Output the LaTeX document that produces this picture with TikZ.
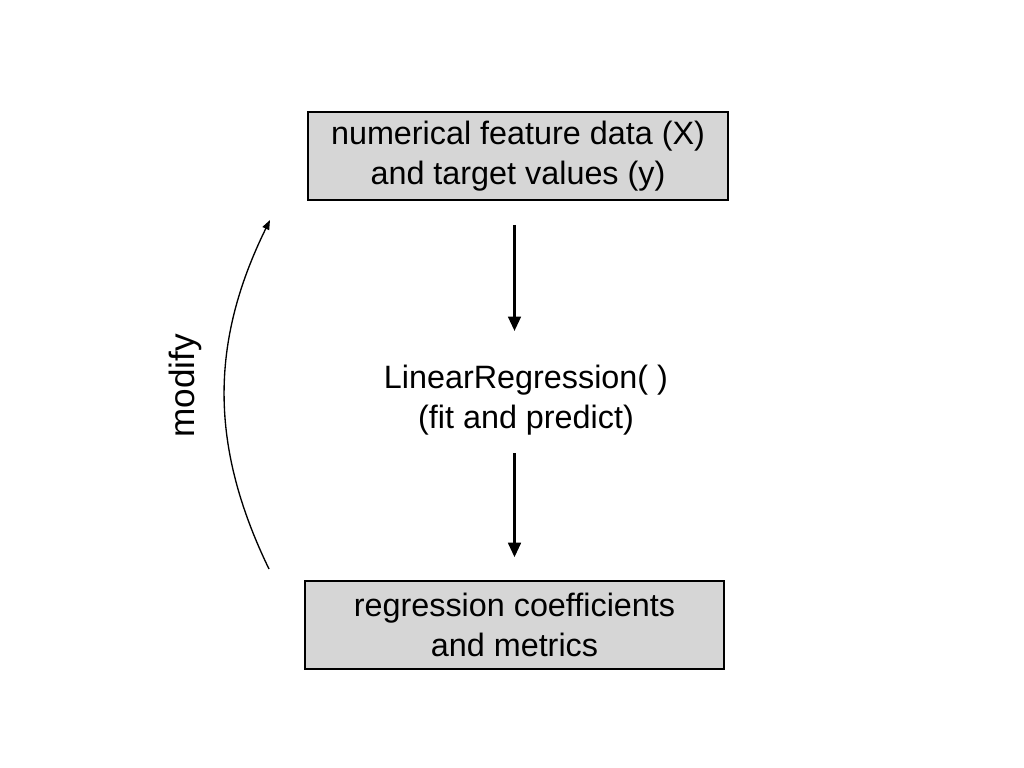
\documentclass[tikz,border=0pt]{standalone}
\usepackage{fontspec}
\setmainfont{Liberation Sans}
\usetikzlibrary{arrows.meta}
\tikzset{
	databox/.style={draw=black, line width=1.2pt, fill=black!16, minimum width=10.5cm, minimum height=2.2cm, align=center, font=\fontsize{23}{28}\selectfont},
	steptext/.style={align=center, inner sep=0pt, font=\fontsize{23}{28}\selectfont},
	flowarrow/.style={line width=1.6pt, -{Triangle[length=0.36cm, width=0.32cm]}},
	loopline/.style={line width=0.95pt, -{Triangle[length=0.24cm, width=0.18cm]}}
}

\begin{document}
\begin{tikzpicture}[x=0.025cm, y=-0.025cm]
		%%%%% START %%%%%
		
		\useasboundingbox (0, 0) rectangle (1024, 768);
		
		\node[databox] (data) at (518, 156) {numerical feature data (X)\\and target values (y)};
		\node[steptext] (model) at (526, 400) {LinearRegression( )\\(fit and predict)};
		\node[databox, minimum width=10.475cm] (result) at (514.5, 625) {regression coefficients\\and metrics};
		
		\draw[flowarrow, shorten <=0.6cm, shorten >=0.85cm] (data.south -| result.north) -- (model.north -| result.north);
		\draw[flowarrow, shorten <=0.45cm, shorten >=0.575cm] (model.south -| result.north) -- (result.north);
		
		\coordinate (loopstart) at (269, 569);
		\coordinate (loopend) at (270, 220);
		\draw[loopline] (loopstart) to[bend left=26] (loopend);
		\node[rotate=90, font=\fontsize{25}{30}\selectfont] (modify) at (185, 386) {modify};
		
		%%%%% END %%%%%
	\end{tikzpicture}
\end{document}
